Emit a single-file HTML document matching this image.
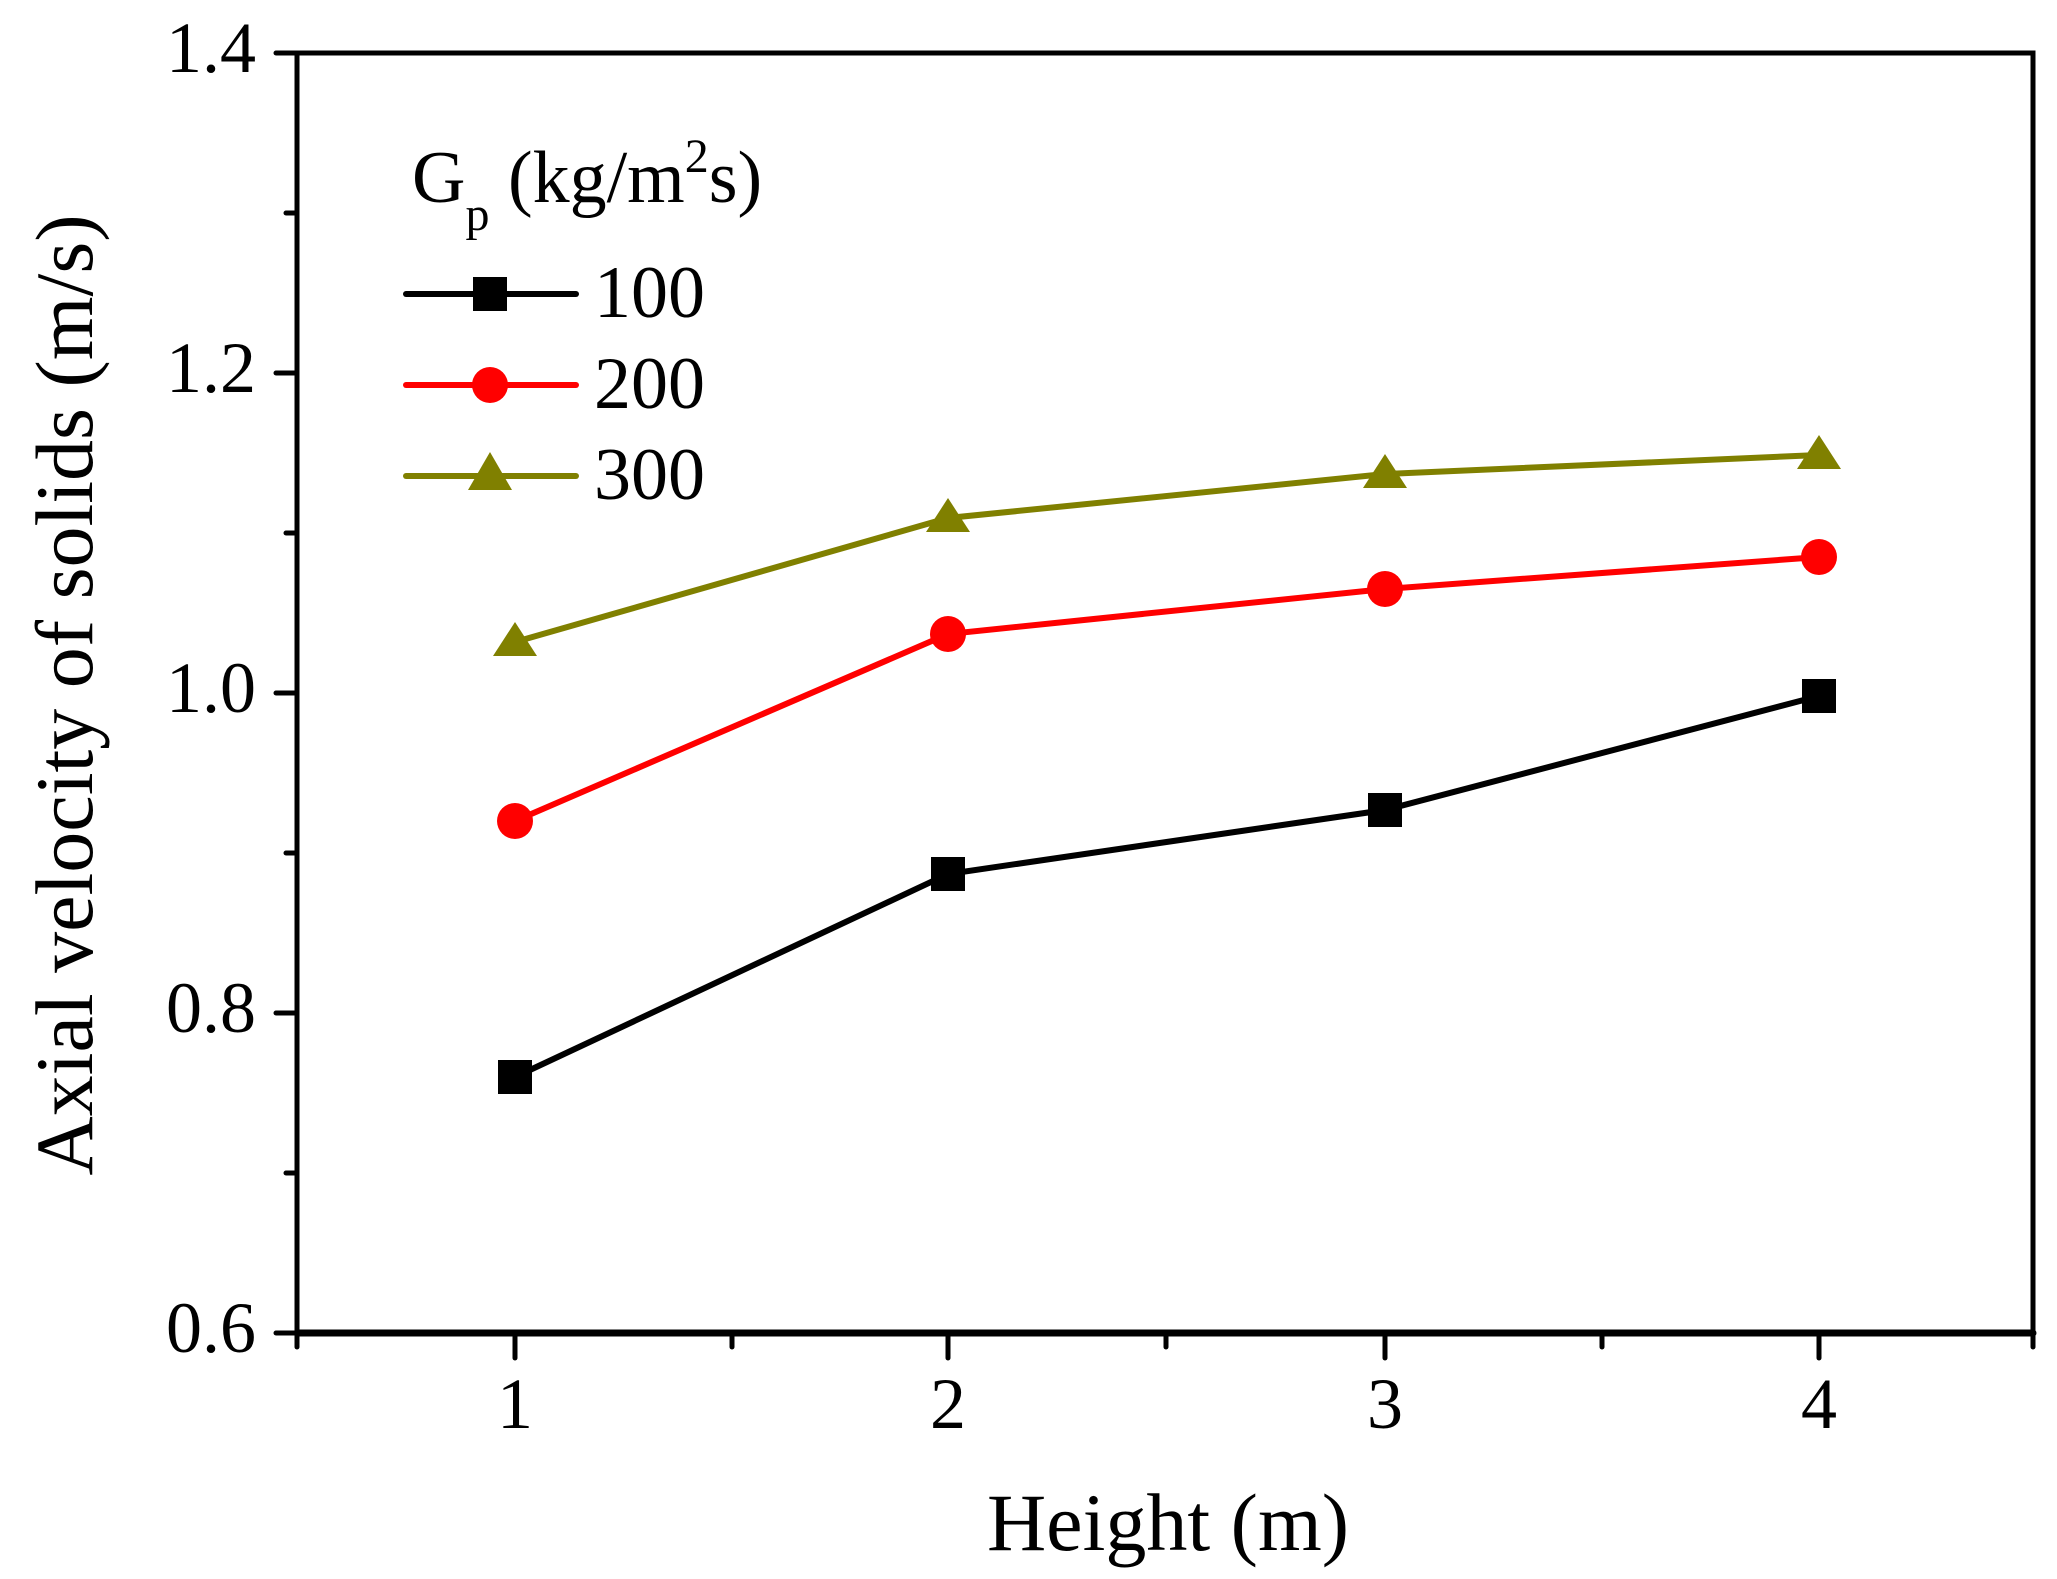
<!DOCTYPE html>
<html><head><style>body{margin:0;background:#fff}svg{display:block}text{font-family:"Liberation Serif",serif;fill:#000}</style></head><body>
<svg width="2057" height="1579" viewBox="0 0 2057 1579">
<g stroke="#000" stroke-width="5" fill="none" stroke-linecap="round">
<rect x="297" y="53" width="1736" height="1280"/>
<line x1="297" y1="1333" x2="2033" y2="1333" stroke-width="7"/>
<line x1="276" y1="53" x2="297" y2="53"/><line x1="286" y1="213" x2="297" y2="213"/>
<line x1="276" y1="373" x2="297" y2="373"/><line x1="286" y1="533" x2="297" y2="533"/>
<line x1="276" y1="693" x2="297" y2="693"/><line x1="286" y1="853" x2="297" y2="853"/>
<line x1="276" y1="1013" x2="297" y2="1013"/><line x1="286" y1="1173" x2="297" y2="1173"/>
<line x1="276" y1="1333" x2="297" y2="1333"/>
<line x1="297" y1="1333" x2="297" y2="1347"/>
<line x1="515" y1="1333" x2="515" y2="1358"/><line x1="732" y1="1333" x2="732" y2="1347"/>
<line x1="948" y1="1333" x2="948" y2="1358"/><line x1="1166" y1="1333" x2="1166" y2="1347"/>
<line x1="1385" y1="1333" x2="1385" y2="1358"/><line x1="1602" y1="1333" x2="1602" y2="1347"/>
<line x1="1819" y1="1333" x2="1819" y2="1358"/><line x1="2033" y1="1333" x2="2033" y2="1347"/>
</g>
<g font-size="72" text-anchor="end">
<text x="256" y="72">1.4</text><text x="256" y="392">1.2</text><text x="256" y="712">1.0</text><text x="256" y="1032">0.8</text><text x="256" y="1352">0.6</text>
</g>
<g font-size="72" text-anchor="middle">
<text x="515" y="1428">1</text><text x="948" y="1428">2</text><text x="1385" y="1428">3</text><text x="1819" y="1428">4</text>
<text x="1168" y="1550" font-size="82">Height (m)</text>
<text transform="translate(92,695) rotate(-90)" font-size="82">Axial velocity of solids (m/s)</text>
</g>
<polyline points="515,1077 948,874 1385,810 1819,696" fill="none" stroke="#000" stroke-width="6"/>
<polyline points="515,821 948,634 1385,589 1819,557" fill="none" stroke="#f00" stroke-width="6"/>
<polyline points="515,642 948,518 1385,474 1819,455" fill="none" stroke="#808000" stroke-width="6"/>
<g fill="#000"><rect x="498" y="1060" width="34" height="34"/><rect x="931" y="857" width="34" height="34"/><rect x="1368" y="793" width="34" height="34"/><rect x="1802" y="679" width="34" height="34"/></g>
<g fill="#f00"><circle cx="515" cy="821" r="18"/><circle cx="948" cy="634" r="18"/><circle cx="1385" cy="589" r="18"/><circle cx="1819" cy="557" r="18"/></g>
<g fill="#808000"><path d="M515,622 L537,656 L493,656Z"/><path d="M948,498 L970,532 L926,532Z"/><path d="M1385,454 L1407,488 L1363,488Z"/><path d="M1819,435 L1841,469 L1797,469Z"/></g>
<text x="412" y="202" font-size="74">G<tspan font-size="48" dy="28">p</tspan><tspan dy="-28"> (kg/m</tspan><tspan font-size="48" dy="-30">2</tspan><tspan dy="30">s)</tspan></text>
<line x1="406" y1="294" x2="576" y2="294" stroke="#000" stroke-width="6" stroke-linecap="round"/>
<rect x="473" y="277" width="34" height="34" fill="#000"/>
<line x1="406" y1="385" x2="576" y2="385" stroke="#f00" stroke-width="6" stroke-linecap="round"/>
<circle cx="490" cy="385" r="18" fill="#f00"/>
<line x1="406" y1="476" x2="576" y2="476" stroke="#808000" stroke-width="6" stroke-linecap="round"/>
<path d="M490,452 L512,490 L468,490Z" fill="#808000"/>
<g font-size="74"><text x="594" y="317">100</text><text x="594" y="408">200</text><text x="594" y="499">300</text></g>
</svg>
</body></html>
